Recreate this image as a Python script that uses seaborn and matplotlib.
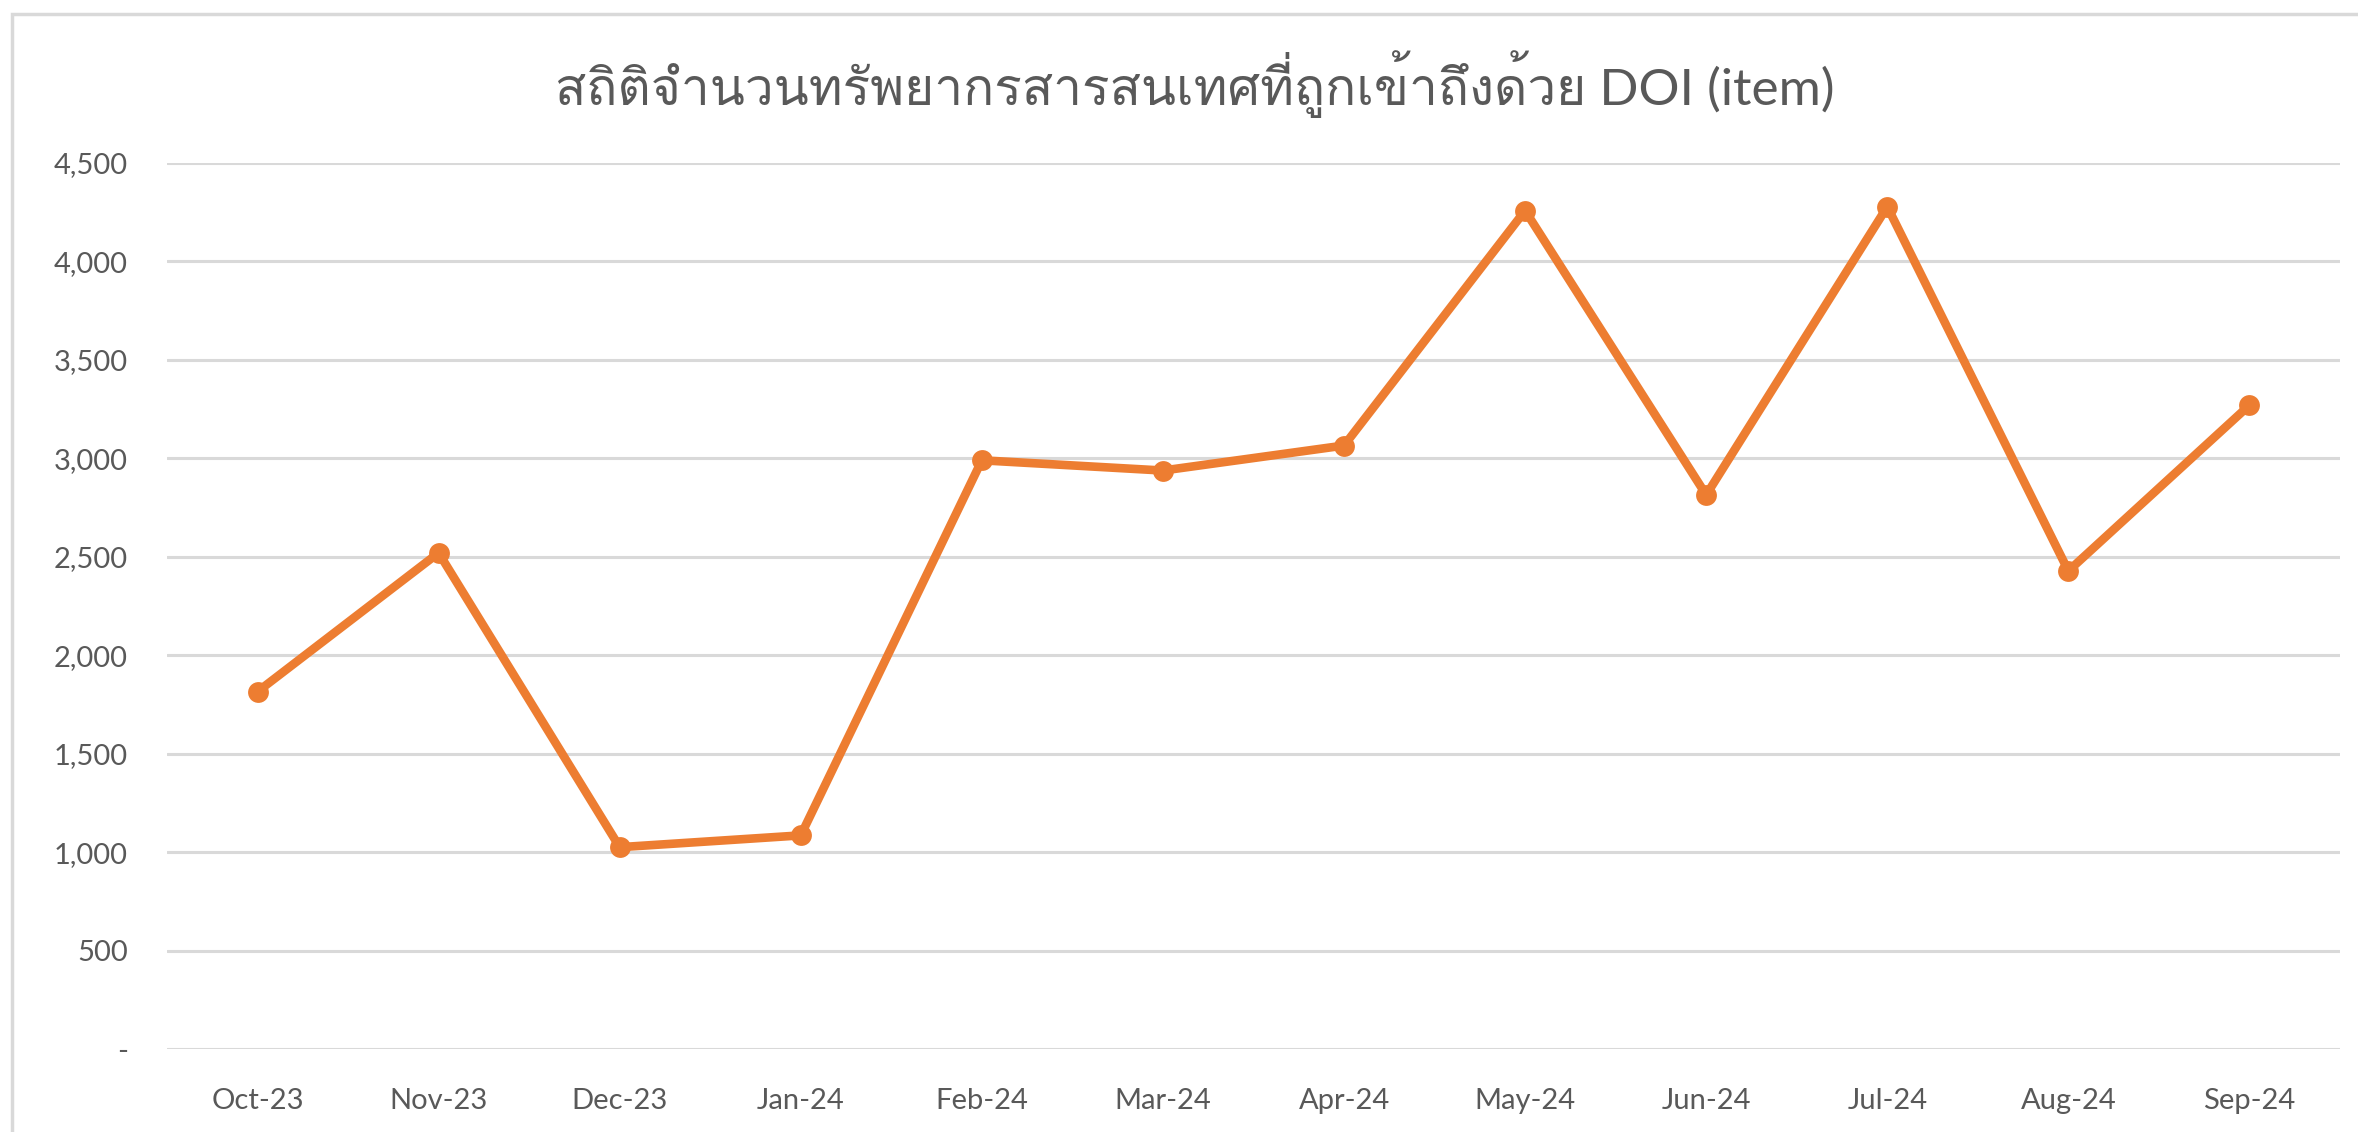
import numpy as np
import pandas as pd
import seaborn as sns
from matplotlib import pyplot as plt
from matplotlib import font_manager
from matplotlib.ticker import FuncFormatter
from matplotlib.patches import Rectangle

months = ["Oct-23", "Nov-23", "Dec-23", "Jan-24", "Feb-24", "Mar-24",
          "Apr-24", "May-24", "Jun-24", "Jul-24", "Aug-24", "Sep-24"]
doi_items = [1815, 2520, 1025, 1085, 2990, 2938, 3065, 4258, 2814, 4278, 2428, 3270]
y_ticks = [0, 500, 1000, 1500, 2000, 2500, 3000, 3500, 4000, 4500]
title = "สถิติจำนวนทรัพยากรสารสนเทศที่ถูกเข้าถึงด้วย DOI (item)"

ORANGE = "#ED7D31"
GREY_TXT = "#595959"
GRID = "#D9D9D9"


def find_thai_font():
    # look for any installed font that has Thai glyphs
    from fontTools.ttLib import TTFont
    for f in font_manager.fontManager.ttflist:
        try:
            tt = TTFont(f.fname, fontNumber=0, lazy=True)
            cmap = tt.getBestCmap() or {}
            if 0x0E2A in cmap and 0x0E16 in cmap:
                return f.name
        except Exception:
            continue
    return None


sns.set_theme(style="white")
thai = find_thai_font()
families = ["Lato", "DejaVu Sans"]
if thai:
    families = ["Lato", thai, "DejaVu Sans"]
plt.rcParams["font.family"] = families

data = pd.DataFrame({"month": months, "items": doi_items})

fig = plt.figure(figsize=(23.58, 11.32), dpi=100)
ax = fig.add_axes([167 / 2358, 1 - 1049 / 1132, (2340 - 167) / 2358, (1049 - 163) / 1132])

sns.lineplot(data=data, x="month", y="items", sort=False, color=ORANGE,
             linewidth=6.2, marker="o", markersize=15, markeredgewidth=0, ax=ax)

ax.set_xlim(-0.5, len(months) - 0.5)
ax.set_ylim(0, 4500)
ax.set_yticks(y_ticks)
ax.yaxis.set_major_formatter(FuncFormatter(lambda v, p: "-" if v == 0 else f"{int(v):,}"))
ax.grid(axis="y", color=GRID, linewidth=2.2)
ax.set_axisbelow(True)
for s in ax.spines.values():
    s.set_visible(False)
ax.set_xlabel("")
ax.set_ylabel("")
ax.tick_params(axis="both", length=0, labelsize=21, labelcolor=GREY_TXT)
ax.tick_params(axis="y", pad=28)
ax.tick_params(axis="x", pad=28)

fig.text(1195 / 2358, 1 - 84 / 1132, title, ha="center", va="center",
         fontsize=37, color=GREY_TXT, family=families)

# chart area border (only left and top edges visible in the crop)
fig.add_artist(Rectangle((12 / 2358, -0.2), 1.2, 1.2 - 14 / 1132, transform=fig.transFigure,
                         fill=False, edgecolor=GRID, linewidth=2.5))

fig.savefig("out.png", dpi=100)
